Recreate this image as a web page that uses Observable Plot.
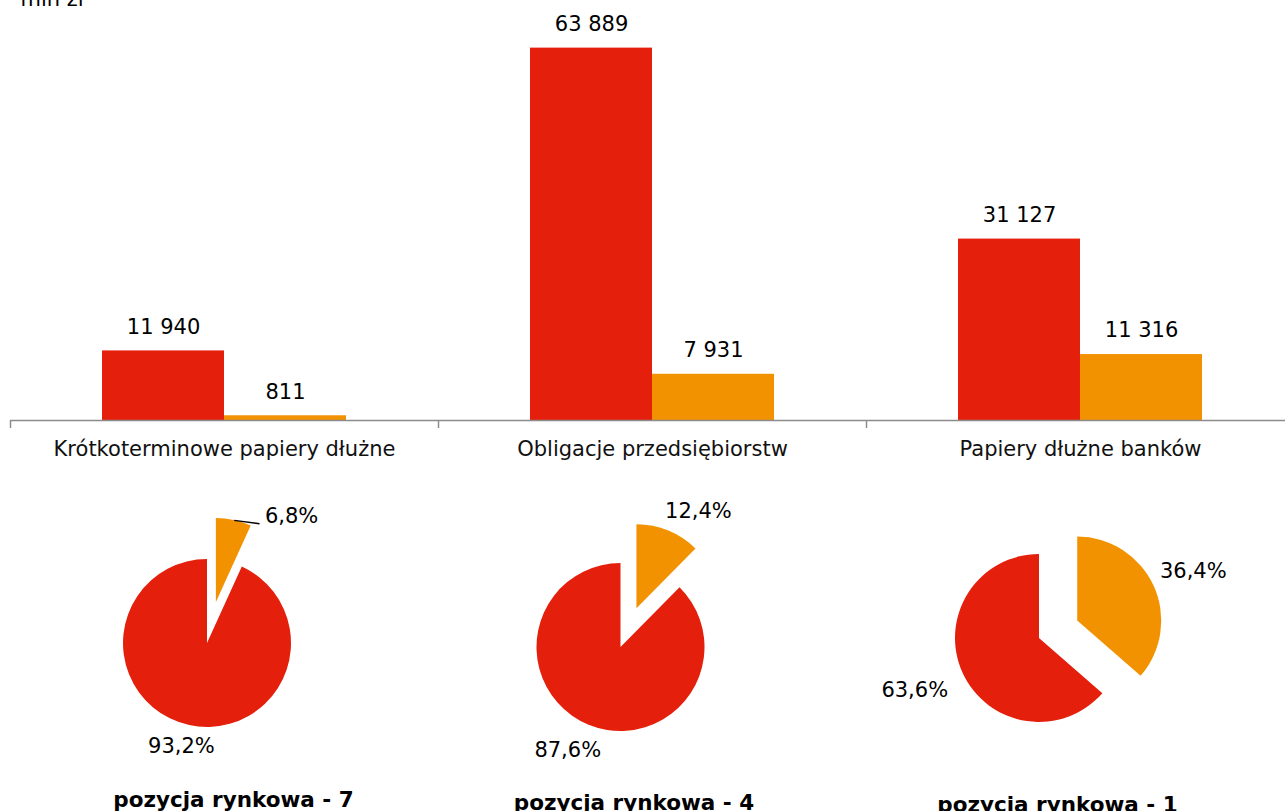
<!DOCTYPE html>
<html><head><meta charset="utf-8">
<script src="https://cdn.jsdelivr.net/npm/d3@7"></script>
<script src="https://cdn.jsdelivr.net/npm/@observablehq/plot@0.6"></script>
<style>
html,body{margin:0;padding:0;background:#fff;overflow:hidden;width:1285px;height:811px;position:relative;}
#bars{position:absolute;left:0;top:0;width:1294px;}
#pies{position:absolute;left:0;top:0;width:1285px;}
svg{max-width:none !important;}
</style></head><body>
<div id="bars"></div><div id="pies"></div>
<script>
// ---- data ----
const unitLabel = "mln zł";
const categories = ["Krótkoterminowe papiery dłużne", "Obligacje przedsiębiorstw", "Papiery dłużne banków"];
const seriesKeys = ["seria1", "seria2"];
const redValues = [11940, 63889, 31127];
const orangeValues = [811, 7931, 11316];
const redShare = [93.2, 87.6, 63.6];
const orangeShare = [6.8, 12.4, 36.4];
const marketPosition = [7, 4, 1];

// ---- styling / layout ----
const RED = "#E41F0C", ORANGE = "#F39200";
const FONT = "DejaVu Sans, Verdana, sans-serif";
const R = 84, EXPLODE = 42;
const pieLayout = [
  {cx: 207, cy: 643, titleX: 233, titleY: 806,
   redLabel: {nudge: 2, dist: 106}, orangeLabel: {nudge: 29, dist: 114, leader: true}},
  {cx: 620.5, cy: 647, titleX: 633.5, titleY: 809.5,
   redLabel: {nudge: 5, dist: 116}, orangeLabel: {nudge: 10, dist: 115}},
  {cx: 1039, cy: 638, titleX: 1057, titleY: 811,
   redLabel: {nudge: 2, dist: 135}, orangeLabel: {nudge: 1, dist: 126}}
];

const numFmt = d3.formatLocale({decimal: ",", thousands: " ", grouping: [3], currency: ["", ""]}).format(",d");
const pctFmt = v => d3.format(".1f")(v).replace(".", ",") + "%";

// ---- bar chart ----
const rows = categories.flatMap((c, i) => [
  {cat: c, s: seriesKeys[0], v: redValues[i]},
  {cat: c, s: seriesKeys[1], v: orangeValues[i]}
]);

const bars = Plot.plot({
  width: 1294, height: 470,
  marginLeft: 10, marginRight: 0, marginTop: 12, marginBottom: 50,
  style: {fontFamily: FONT, fontSize: "21px", color: "#000", background: "transparent", overflow: "visible", maxWidth: "none"},
  fx: {domain: categories, padding: 0, label: null},
  x: {domain: seriesKeys, paddingInner: 0, paddingOuter: 0.75, axis: null},
  y: {domain: [0, 70000], axis: null},
  color: {domain: seriesKeys, range: [RED, ORANGE]},
  marks: [
    Plot.barY(rows, {fx: "cat", x: "s", y: "v", fill: "s"}),
    Plot.text(rows, {fx: "cat", x: "s", y: "v", text: d => numFmt(d.v), dy: -24, fontSize: 21, fill: "#000"}),
    Plot.ruleY([0], {stroke: "#8c8c8c", strokeWidth: 1.5}),
    Plot.axisFx({anchor: "bottom", tickSize: 0, tickPadding: 21, fontSize: 21, label: null, fill: "#111"}),
    Plot.axisFx({anchor: "bottom", tickSize: 8, tickFormat: () => "", dx: -214, stroke: "#8c8c8c", strokeWidth: 1.5, label: null}),
    Plot.text([unitLabel], {fx: () => categories[0], frameAnchor: "top-left", textAnchor: "start", lineAnchor: "bottom", dx: 10, dy: -7, fontSize: 21, fill: "#000"})
  ]
});
document.getElementById("bars").append(bars);

// ---- pies ----
const arcGen = d3.arc().innerRadius(0).outerRadius(R);
const slices = [], labels = [], leaders = [], titles = [];
categories.forEach((c, i) => {
  const L = pieLayout[i];
  const pieData = [
    {s: seriesKeys[1], share: orangeShare[i]},
    {s: seriesKeys[0], share: redShare[i]}
  ];
  d3.pie().sort(null).value(d => d.share)(pieData).forEach(a => {
    const mid = (a.startAngle + a.endAngle) / 2;
    const isOrange = a.data.s === seriesKeys[1];
    const ex = isOrange ? EXPLODE : 0;
    const ox = L.cx + Math.sin(mid) * ex, oy = L.cy - Math.cos(mid) * ex;
    slices.push({s: a.data.s, arc: a, ox, oy});
    const lab = isOrange ? L.orangeLabel : L.redLabel;
    const ang = mid + lab.nudge * Math.PI / 180;
    const lx = ox + Math.sin(ang) * lab.dist, ly = oy - Math.cos(ang) * lab.dist;
    labels.push({x: lx, y: ly, text: pctFmt(a.data.share)});
    if (lab.leader) leaders.push({x1: ox + Math.sin(mid) * R, y1: oy - Math.cos(mid) * R, x2: lx - 32, y2: ly + 7});
  });
  titles.push({x: L.titleX, y: L.titleY, text: `pozycja rynkowa - ${marketPosition[i]}`});
});

function pieMark(data) {
  return (index, scales) => {
    const sx = scales.x || (v => v), sy = scales.y || (v => v);
    const col = scales.color || (s => s === seriesKeys[0] ? RED : ORANGE);
    const g = d3.create("svg:g");
    g.selectAll("path").data(data).join("path")
      .attr("transform", d => `translate(${sx(d.ox)},${sy(d.oy)})`)
      .attr("d", d => arcGen(d.arc))
      .attr("fill", d => col(d.s));
    return g.node();
  };
}

const pies = Plot.plot({
  width: 1285, height: 811, margin: 0,
  style: {fontFamily: FONT, fontSize: "21px", color: "#000", background: "transparent", overflow: "visible", maxWidth: "none"},
  x: {type: "identity", axis: null},
  y: {type: "identity", axis: null},
  color: {domain: seriesKeys, range: [RED, ORANGE]},
  marks: [
    pieMark(slices),
    Plot.link(leaders, {x1: "x1", y1: "y1", x2: "x2", y2: "y2", stroke: "#000", strokeWidth: 1.3}),
    Plot.text(labels, {x: "x", y: "y", text: "text", fontSize: 21, fill: "#000"}),
    Plot.text(titles, {x: "x", y: "y", text: "text", fontSize: 21.5, fontWeight: "bold", lineAnchor: "bottom", fill: "#000"})
  ]
});
document.getElementById("pies").append(pies);
</script>
</body></html>
